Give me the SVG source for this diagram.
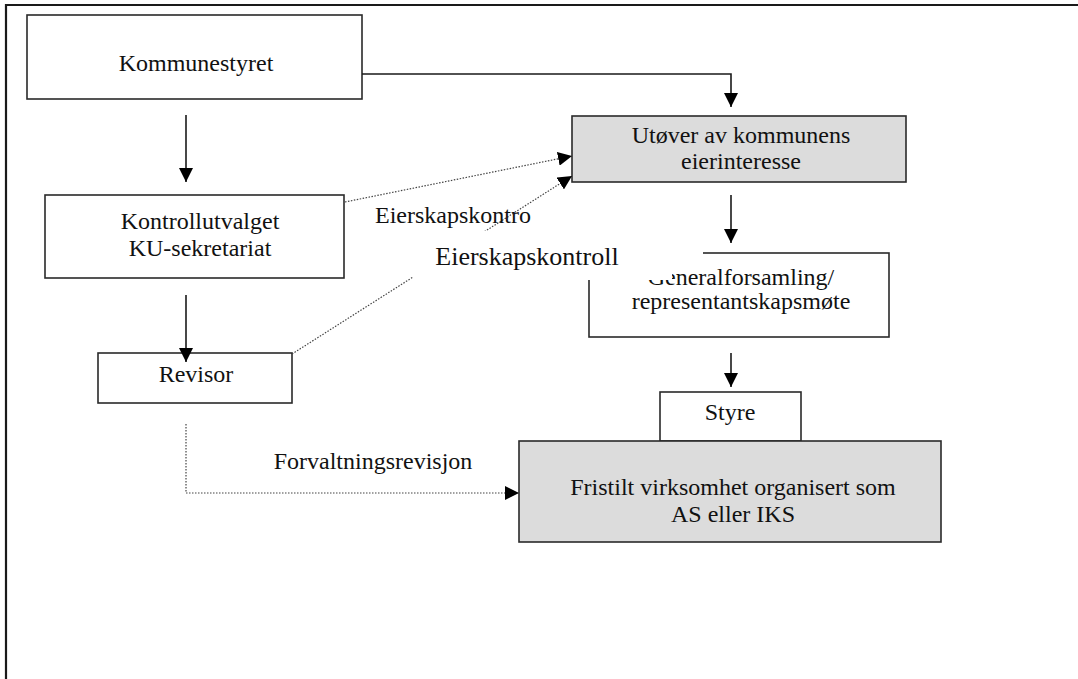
<svg xmlns="http://www.w3.org/2000/svg" width="1078" height="679" viewBox="0 0 1078 679">
<defs>
<style>
.box{fill:#fff;stroke:#2a2a2a;stroke-width:1.6}
.grey{fill:#dcdcdc;stroke:#2a2a2a;stroke-width:1.6}
.t{font-family:"Liberation Serif","Times New Roman",serif;font-size:24px;fill:#111;text-anchor:middle}
.solid{fill:none;stroke:#1a1a1a;stroke-width:1.6}
.dot{fill:none;stroke:#444;stroke-width:1.2;stroke-dasharray:1.5 1.5}
</style>
<marker id="ah" viewBox="0 0 14 14" refX="14" refY="7" markerWidth="14" markerHeight="14" markerUnits="userSpaceOnUse" orient="auto">
<path d="M0,0 L14,7 L0,14 z" fill="#000"/>
</marker>
</defs>
<rect width="1078" height="679" fill="#fff"/>
<path d="M6,679 V5 H1078" fill="none" stroke="#1a1a1a" stroke-width="2.2"/>

<g id="kommunestyret">
<rect class="box" x="27" y="15" width="335" height="84"/>
<text class="t" x="196" y="71">Kommunestyret</text>
</g>

<g id="kontrollutvalget">
<rect class="box" x="45" y="195" width="299" height="83"/>
<text class="t" x="200" y="229">Kontrollutvalget</text>
<text class="t" x="200" y="256">KU-sekretariat</text>
</g>

<g id="revisor">
<rect class="box" x="98" y="353" width="194" height="50"/>
<text class="t" x="196" y="382">Revisor</text>
</g>

<g id="utover">
<rect class="grey" x="572" y="116" width="334" height="66"/>
<text class="t" x="741" y="143">Utøver av kommunens</text>
<text class="t" x="741" y="169">eierinteresse</text>
</g>

<g id="generalforsamling">
<rect class="box" x="589" y="253" width="300" height="84"/>
<text class="t" x="741" y="285">Generalforsamling/</text>
<text class="t" x="741" y="309">representantskapsmøte</text>
</g>

<g id="styre">
<rect class="box" x="660" y="392" width="141" height="49"/>
<text class="t" x="730" y="420">Styre</text>
</g>

<g id="fristilt">
<rect class="grey" x="519" y="441" width="422" height="101"/>
<text class="t" x="733" y="495">Fristilt virksomhet organisert som</text>
<text class="t" x="733" y="522">AS eller IKS</text>
</g>

<g id="connectors">
<path class="solid" d="M186,115 V182" marker-end="url(#ah)"/>
<path class="solid" d="M186,295 V362" marker-end="url(#ah)"/>
<path class="solid" d="M362,74 H731 V107" marker-end="url(#ah)"/>
<path class="solid" d="M731,195 V243" marker-end="url(#ah)"/>
<path class="solid" d="M731,353 V387" marker-end="url(#ah)"/>
<path class="dot" d="M345,202 L572,156" marker-end="url(#ah)"/>
<path class="dot" d="M292,354 L572,176" marker-end="url(#ah)"/>
<path class="dot" d="M186,424 V493 H519" marker-end="url(#ah)"/>
</g>

<g id="label-eierskapskontro">
<text class="t" x="453" y="223">Eierskapskontro</text>
</g>

<g id="label-eierskapskontroll">
<path d="M413,231 H703 V265 H672 V280 H413 z" fill="#fff"/>
<text class="t" style="font-size:26px" x="527" y="265">Eierskapskontroll</text>
</g>

<g id="label-forvaltningsrevisjon">
<text class="t" x="373" y="469">Forvaltningsrevisjon</text>
</g>
</svg>
